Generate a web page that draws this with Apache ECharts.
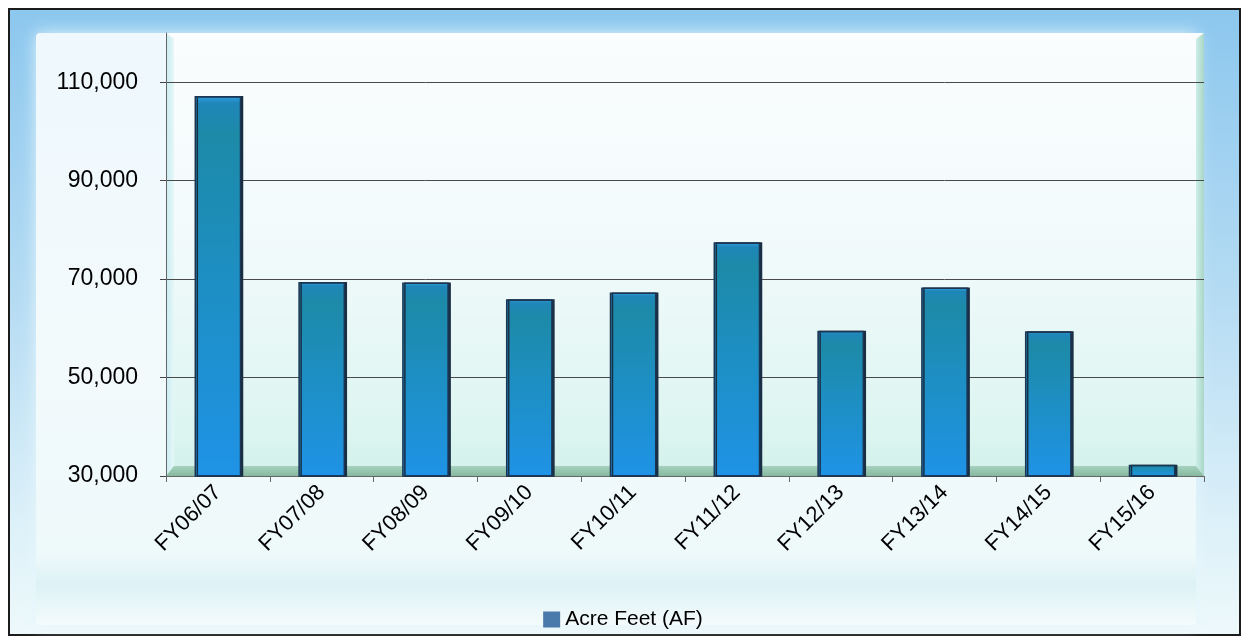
<!DOCTYPE html>
<html><head><meta charset="utf-8">
<script src="https://cdn.jsdelivr.net/npm/echarts@6/dist/echarts.min.js"></script>
<style>html,body{margin:0;padding:0;background:#fff}#c{width:1246px;height:637px}</style>
</head><body><div id="c"></div>
<script>
const categories = ['FY06/07','FY07/08','FY08/09','FY09/10','FY10/11','FY11/12','FY12/13','FY13/14','FY14/15','FY15/16'];
const acreFeet = [107200, 69400, 69300, 65900, 67300, 77500, 59500, 68300, 59400, 32300];
const yTicks = [30000, 50000, 70000, 90000, 110000];
const seriesName = 'Acre Feet (AF)';

const W = 1246, H = 637;
const G = {left: 166, top: 33, right: 42, bottom: 161};
const PX = G.left, PY = G.top, PW = W - G.left - G.right, PH = H - G.top - G.bottom;
const lin = (x1,y1,x2,y2,stops)=>({type:'linear',x:x1,y:y1,x2:x2,y2:y2,colorStops:stops.map(s=>({offset:s[0],color:s[1]}))});
const FONT = 'Liberation Sans, Arial, sans-serif';

const chart = echarts.init(document.getElementById('c'));
chart.setOption({
  animation: false,
  textStyle: {fontFamily: FONT},
  graphic: [
    {type:'rect', z:-20, shape:{x:9,y:9,width:1231,height:626},
     style:{fill: lin(0,0,0,1,[[0,'#8cc7ee'],[0.45,'#b4dbf3'],[0.85,'#dff2f9'],[1,'#eef9fb']]), stroke:'#1c1c1c', lineWidth:2}},
    {type:'rect', z:-19, shape:{x:36,y:33,width:1160,height:592, r:4},
     style:{fill: lin(0,0,0,1,[[0,'#eef8fd'],[0.5,'#f3fafc'],[0.88,'#eef9fa'],[0.93,'#dcf2f5'],[1,'#f4fbfc']]),
            shadowBlur:16, shadowColor:'rgba(230,246,252,0.95)'}},
    {type:'rect', z:-18, shape:{x:PX,y:PY,width:PW,height:PH},
     style:{fill: lin(0,0,0,1,[[0,'#fbfdfe'],[0.5,'#f1fafb'],[0.9,'#dcf5f0'],[1,'#d2f1ea']])}},
    {type:'polygon', z:-17, shape:{points:[[PX,PY],[PX+8,PY+6],[PX+8,PY+PH-10],[PX,PY+PH]]},
     style:{fill: lin(0,0,1,0,[[0,'#c8ecf2'],[1,'#e6f7f8']])}},
    {type:'polygon', z:-17, shape:{points:[[PX+PW,PY],[PX+PW-8,PY+6],[PX+PW-8,PY+PH-10],[PX+PW,PY+PH]]},
     style:{fill: lin(0,0,1,0,[[0,'#cdeee9'],[1,'#a9d6c6']])}},
    {type:'polygon', z:-16, shape:{points:[[PX,PY+PH],[PX+8,PY+PH-10],[PX+PW-8,PY+PH-10],[PX+PW,PY+PH]]},
     style:{fill: lin(0,0,0,1,[[0,'#a6d2bf'],[1,'#86b99f']])}}
  ],
  grid: {left: G.left, top: G.top, right: G.right, bottom: G.bottom},
  legend: {
    left: 'center', top: 604, icon: 'rect', itemWidth: 17, itemHeight: 16, itemGap: 4,
    data: [{name: seriesName, itemStyle: {color: '#4a79ab', borderWidth: 0, shadowBlur: 0, shadowOffsetX: 0}}],
    textStyle: {fontSize: 21, color: '#000', fontFamily: FONT}
  },
  xAxis: {
    type: 'category', data: categories,
    axisLine: {lineStyle: {color: '#666', width: 1}},
    axisTick: {show: true, length: 6, lineStyle: {color: '#666'}},
    axisLabel: {rotate: 45, fontSize: 22, color: '#000', margin: 13, interval: 0}
  },
  yAxis: {
    type: 'value', min: 30000, max: 120000, interval: 10000,
    axisLine: {show: true, lineStyle: {color: '#666'}},
    axisTick: {show: true, length: 6, lineStyle: {color: '#444'}, customValues: yTicks},
    axisLabel: {fontSize: 23, color: '#000', margin: 28, customValues: yTicks,
      formatter: v => yTicks.indexOf(v) >= 0 ? v.toLocaleString('en-US') : ''},
    splitLine: {show: true, lineStyle: {color: '#4a4a4a', width: 1}}
  },
  series: [{
    name: seriesName, type: 'bar', data: acreFeet, barWidth: '45%',
    itemStyle: {
      color: lin(0,0,0,1,[[0,'#2f9fe0'],[0.02,'#1f86b8'],[0.1,'#1d8aa8'],[0.5,'#1d8fc4'],[1,'#1f93e6']]),
      borderColor: '#1b3552', borderWidth: 1.5,
      shadowColor: '#1a2e44', shadowOffsetX: 2, shadowBlur: 0
    }
  }]
});
</script></body></html>
